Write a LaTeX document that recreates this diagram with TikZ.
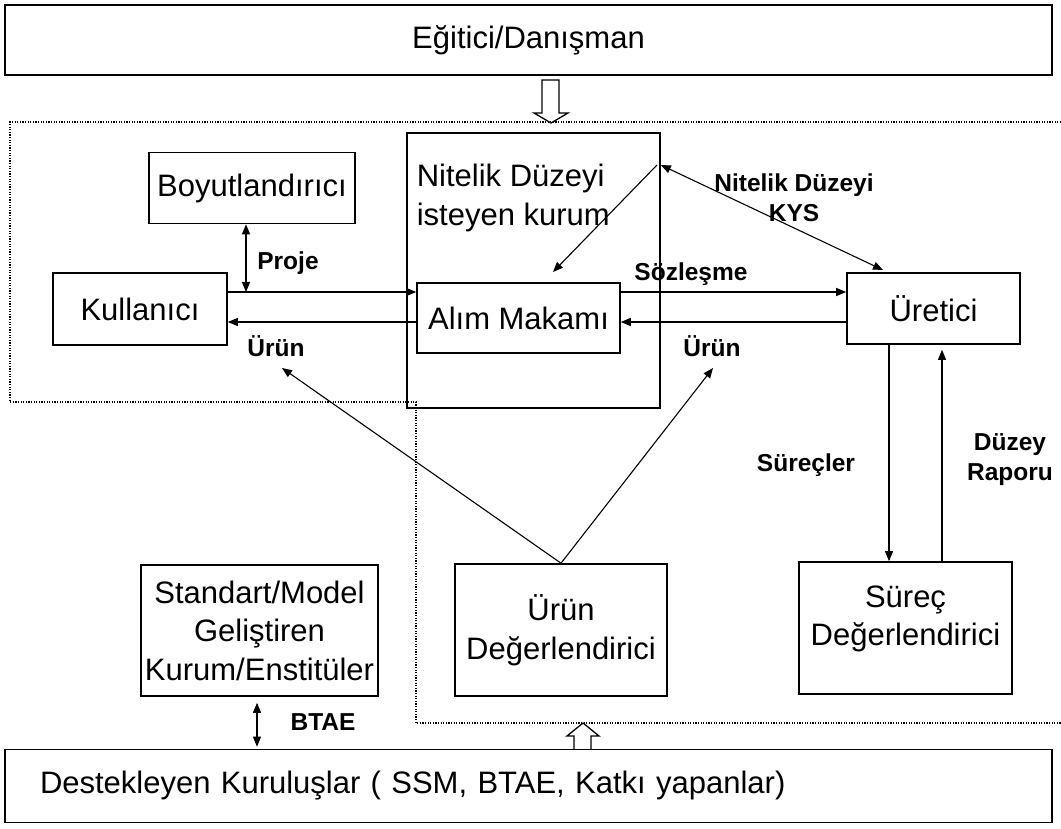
\documentclass[tikz,border=0pt]{standalone}
\usepackage{fontspec}
\setmainfont{Liberation Sans}
\usetikzlibrary{arrows.meta,positioning}
\tikzset{>=Stealth}

\begin{document}
\begin{tikzpicture}[
    x=1pt, y=-1pt,
    box/.style={rectangle, draw, line width=1.6pt, inner sep=2pt, align=center, font=\fontsize{31}{38.5}\selectfont},
    lbl/.style={inner sep=0pt, align=center, font=\fontsize{24.5}{30}\selectfont\bfseries},
    arr/.style={-{Triangle[length=10pt,width=8pt]}, line width=1.1pt},
    dbl/.style={{Triangle[length=10pt,width=8pt]}-{Triangle[length=10pt,width=8pt]}, line width=1.1pt},
    hollow/.style={line width=1.3pt},
    region/.style={line width=1.3pt, dash pattern=on 1.3pt off 1.3pt}
]
    \useasboundingbox (0,0) rectangle (1061,829);

    % outer boxes
    \node[box, minimum width=1047pt, minimum height=70pt] (egitici) at (528.5,40) {Eğitici/Danışman};
    \node[box, minimum height=73pt, text width=977pt, inner xsep=35pt, align=left] (destek) at (528.5,786) {Destekleyen Kuruluşlar ( SSM, BTAE, Katkı yapanlar)};

    % inner boxes
    \node[box, minimum width=206pt, minimum height=71pt] (boyut) at (252,188) {Boyutlandırıcı};
    \node[box, minimum width=174pt, minimum height=72pt] (kullanici) at (140,309) {Kullanıcı};
    \node[box, minimum width=253pt, minimum height=275pt] (kurum) at (533.5,270.5) {};
    \node[box, draw=none, inner sep=0pt, align=left, anchor=west] (kurumtxt) at (416,198) {Nitelik Düzeyi\\isteyen kurum};
    \node[box, minimum width=203pt, minimum height=70pt] (alim) at (518.5,318) {Alım Makamı};
    \node[box, minimum width=173pt, minimum height=71pt] (uretici) at (933.5,308.5) {Üretici};
    \node[box, minimum width=212pt, minimum height=132pt] (urundeg) at (561,630) {Ürün\\Değerlendirici};
    \node[box, minimum width=213pt, minimum height=132pt] (surec) at (905.5,628) {};
    \node[box, draw=none] (surectxt) at (905.5,619) {Süreç\\Değerlendirici};
    \node[box, minimum width=237pt, minimum height=131pt] (standart) at (259.5,630.5) {Standart/Model\\Geliştiren\\Kurum/Enstitüler};

    % labels
    \node[lbl] (proje) at (288,263) {Proje};
    \node[lbl] (sozlesme) at (691,274) {Sözleşme};
    \node[lbl] (urun1) at (276,346) {Ürün};
    \node[lbl] (urun2) at (712,346) {Ürün};
    \node[lbl] (kys) at (794,198) {Nitelik Düzeyi\\KYS};
    \node[lbl] (surecler) at (806,465) {Süreçler};
    \node[lbl] (rapor) at (1010,460) {Düzey\\Raporu};
    \node[lbl] (btae) at (323,722) {BTAE};

    % helper coordinates
    \coordinate (upper) at (0,292);
    \coordinate (lower) at (0,322);
    \coordinate (pj) at (246,0);
    \coordinate (nk) at (663,165);
    \coordinate (uk) at (883,270);
    \coordinate (ns) at (657,165);
    \coordinate (ae) at (553,272);
    \coordinate (u1) at (282,368);
    \coordinate (u2) at (713,368);
    \coordinate (sc) at (889,0);
    \coordinate (dr) at (942,0);
    \coordinate (bt) at (257,0);

    % connectors
    \draw[dbl] (boyut.south -| pj) -- (pj |- upper);
    \draw[arr] (kullanici.east |- upper) -- (alim.west |- upper);
    \draw[arr] (alim.west |- lower) -- (kullanici.east |- lower);
    \draw[arr] (alim.east |- upper) -- (uretici.west |- upper);
    \draw[arr] (uretici.west |- lower) -- (alim.east |- lower);
    \draw[dbl] (kurum.east |- nk) -- (uk);
    \draw[arr] (ns) -- (ae);
    \draw[arr] (urundeg.north) -- (u1);
    \draw[arr] (urundeg.north) -- (u2);
    \draw[arr] (uretici.south -| sc) -- (surec.north -| sc);
    \draw[arr, shorten >=5pt] (surec.north -| dr) -- (uretici.south -| dr);
    \draw[dbl, shorten <=6pt, shorten >=2pt] (standart.south -| bt) -- (destek.north -| bt);

    % hollow block arrows
    \draw[hollow] (542,80) -- (542,113) -- (534,113) -- (551,123) -- (568,113) -- (559,113) -- (559,80) -- cycle;
    \draw[hollow] (574,749) -- (574,736) -- (567,736) -- (583,723) -- (599,736) -- (591,736) -- (591,749);

    % dotted region
    \draw[region] (1061,122) -- (10,122) -- (10,402) -- (416,402) -- (416,723) -- (1061,723);
\end{tikzpicture}
\end{document}
